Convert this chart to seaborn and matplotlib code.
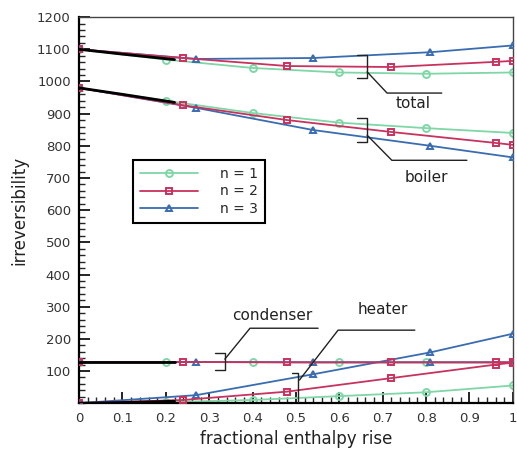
import matplotlib
matplotlib.use("Agg")
import matplotlib.pyplot as plt
import seaborn as sns
import pandas as pd
from matplotlib.ticker import MultipleLocator, FixedLocator

# ---------------- data ----------------
x_n1 = [0.0, 0.2, 0.4, 0.6, 0.8, 1.0]
x_n2 = [0.0, 0.24, 0.48, 0.72, 0.96, 1.0]
x_n3 = [0.0, 0.27, 0.54, 0.81, 1.0]

total_n1 = [1100, 1068, 1042, 1028, 1024, 1028]
total_n2 = [1100, 1073, 1048, 1045, 1061, 1064]
total_n3 = [1100, 1070, 1073, 1091, 1112]

boiler_n1 = [980, 940, 902, 872, 855, 840]
boiler_n2 = [980, 926, 880, 843, 809, 803]
boiler_n3 = [980, 918, 849, 800, 764]

condenser_n1 = [128, 128, 128, 127, 127, 127]
condenser_n2 = [128, 128, 127, 127, 127, 127]
condenser_n3 = [128, 128, 127, 127, 127]

heater_n1 = [0, 3, 10, 22, 34, 55]
heater_n2 = [0, 10, 36, 78, 120, 126]
heater_n3 = [0, 25, 90, 158, 216]

# black common start segment (all n coincide)
common_x = [0.0, 0.1, 0.22]
common_total = [1100, 1085, 1068]
common_boiler = [980, 960, 935]
common_condenser = [128, 128, 128]
common_heater = [0, 2, 6]

labels_n = ["n = 1", "n = 2", "n = 3"]
xtick_vals = [0, 0.1, 0.2, 0.3, 0.4, 0.5, 0.6, 0.7, 0.8, 0.9, 1.0]
xtick_labels = ["0", "0.1", "0.2", "0.3", "0.4", "0.5", "0.6", "0.7", "0.8", "0.9", "1"]
ytick_vals = [100, 200, 300, 400, 500, 600, 700, 800, 900, 1000, 1100, 1200]

# ---------------- build table ----------------
rows = []
xs = {"n = 1": x_n1, "n = 2": x_n2, "n = 3": x_n3}
comps = {
    "total": {"n = 1": total_n1, "n = 2": total_n2, "n = 3": total_n3},
    "boiler": {"n = 1": boiler_n1, "n = 2": boiler_n2, "n = 3": boiler_n3},
    "condenser": {"n = 1": condenser_n1, "n = 2": condenser_n2, "n = 3": condenser_n3},
    "heater": {"n = 1": heater_n1, "n = 2": heater_n2, "n = 3": heater_n3},
}
for comp, d in comps.items():
    for n, vals in d.items():
        for xv, yv in zip(xs[n], vals):
            rows.append({"x": xv, "y": yv, "n": n, "comp": comp})
df = pd.DataFrame(rows)

crow = []
for comp, vals in {"total": common_total, "boiler": common_boiler,
                   "condenser": common_condenser, "heater": common_heater}.items():
    for xv, yv in zip(common_x, vals):
        crow.append({"x": xv, "y": yv, "comp": comp})
cdf = pd.DataFrame(crow)

# ---------------- style ----------------
sns.set_style("ticks", {"xtick.direction": "in", "ytick.direction": "in"})
plt.rcParams["font.family"] = ["DejaVu Sans"]

colors = {"n = 1": "#7fd6a6", "n = 2": "#c8325e", "n = 3": "#3a6cb0"}
markers = {"n = 1": "o", "n = 2": "s", "n = 3": "^"}
zord = {"n = 1": 2, "n = 2": 4, "n = 3": 3}

fig = plt.figure(figsize=(5.17, 4.51), dpi=100)
ax = fig.add_axes([0.153, 0.106, 0.839, 0.856])

for n in ["n = 1", "n = 3", "n = 2"]:
    for comp in comps:
        sub = df[(df.n == n) & (df.comp == comp)]
        sns.lineplot(data=sub, x="x", y="y", ax=ax, color=colors[n],
                     marker=markers[n], markersize=5, markerfacecolor="none",
                     markeredgecolor=colors[n], markeredgewidth=1.4,
                     linewidth=1.3, zorder=zord[n], sort=True,
                     label=n if comp == "total" else None, legend=False)

for comp in comps:
    sub = cdf[cdf.comp == comp]
    sns.lineplot(data=sub, x="x", y="y", ax=ax, color="black",
                 linewidth=2.0, zorder=5, legend=False)

ax.set_xlim(0, 1)
ax.set_ylim(0, 1200)
ax.xaxis.set_major_locator(FixedLocator(xtick_vals))
ax.set_xticklabels(xtick_labels)
ax.xaxis.set_minor_locator(MultipleLocator(0.02))
ax.yaxis.set_major_locator(FixedLocator(ytick_vals))
ax.yaxis.set_minor_locator(MultipleLocator(20))
ax.tick_params(axis="both", which="major", direction="in", length=8, width=1.2,
               labelsize=9.5, colors="black", labelcolor="#333333",
               top=False, right=False, bottom=True, left=True, pad=6)
ax.tick_params(axis="both", which="minor", direction="in", length=4, width=1.0,
               top=False, right=False, bottom=True, left=True)
for s in ["left", "bottom"]:
    ax.spines[s].set_linewidth(1.6)
    ax.spines[s].set_color("black")
for s in ["top", "right"]:
    ax.spines[s].set_visible(True)
    ax.spines[s].set_linewidth(1.0)
    ax.spines[s].set_color("#444444")

ax.set_xlabel("fractional enthalpy rise", fontsize=12, color="#222222", labelpad=4)
ax.set_ylabel("irreversibility", fontsize=12, color="#222222", labelpad=6)

# ---------------- annotations ----------------
ak = dict(color="#222222", linewidth=1.0, zorder=6)
# total
ax.plot([0.641, 0.664, 0.664, 0.641], [1082, 1082, 1010, 1010], **ak)
ax.plot([0.664, 0.710, 0.836], [1030, 964, 964], **ak)
ax.text(0.77, 933, "total", fontsize=11, ha="center", va="center", color="#222222")
# boiler
ax.plot([0.641, 0.664, 0.664, 0.641], [886, 886, 811, 811], **ak)
ax.plot([0.664, 0.721, 0.894], [833, 755, 755], **ak)
ax.text(0.80, 703, "boiler", fontsize=11, ha="center", va="center", color="#222222")
# condenser
ax.plot([0.313, 0.336, 0.336, 0.313], [155, 155, 103, 103], **ak)
ax.plot([0.336, 0.394, 0.551], [137, 233, 233], **ak)
ax.text(0.445, 272, "condenser", fontsize=11, ha="center", va="center", color="#222222")
# heater
ax.plot([0.49, 0.505, 0.505], [93, 93, 0], **ak)
ax.plot([0.508, 0.597, 0.774], [72, 227, 227], **ak)
ax.text(0.70, 291, "heater", fontsize=11, ha="center", va="center", color="#222222")

# ---------------- legend ----------------
handles, lbls = ax.get_legend_handles_labels()
order = [lbls.index(l) for l in labels_n]
leg = ax.legend([handles[i] for i in order], [lbls[i] for i in order],
                loc="upper left", bbox_to_anchor=(0.124, 0.63), borderaxespad=0,
                fontsize=10, handlelength=4.2, fancybox=False, frameon=True,
                edgecolor="black", framealpha=1, borderpad=0.5, labelspacing=0.25,
                handletextpad=1.6)
leg.get_frame().set_linewidth(1.5)

fig.savefig("out.png", dpi=100)
